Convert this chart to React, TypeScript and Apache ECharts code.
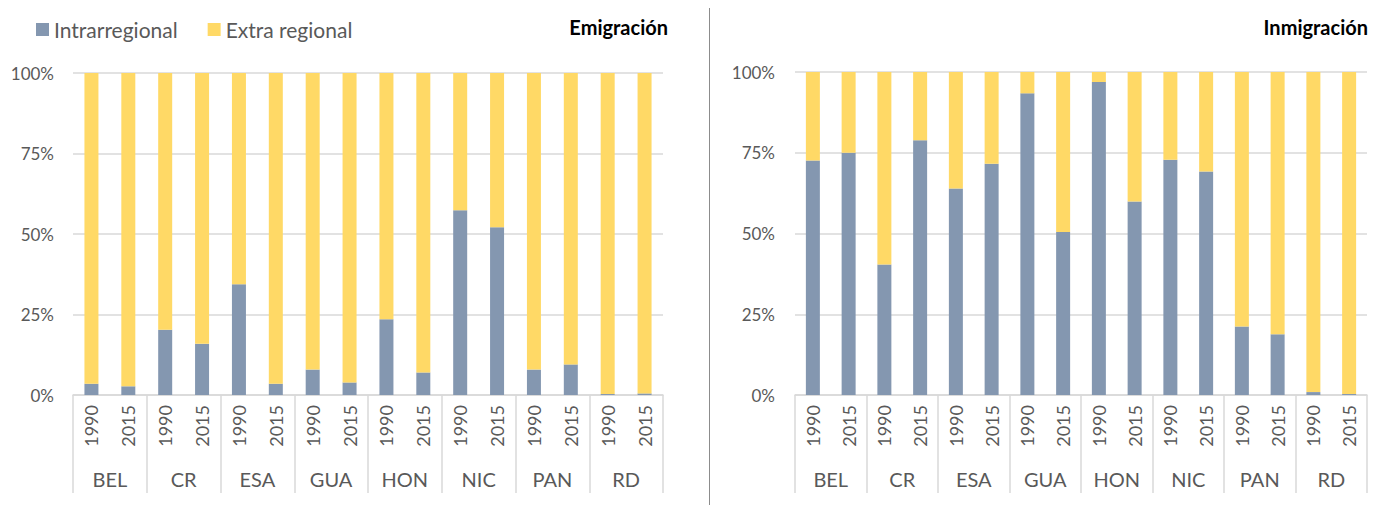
import React, { useEffect, useRef } from "react";
import * as echarts from "echarts";

const countries = ["BEL", "CR", "ESA", "GUA", "HON", "NIC", "PAN", "RD"];
const years = ["1990", "2015"];
const yTicks = [0, 25, 50, 75, 100];

// Intrarregional share (%) per country/year, order: BEL1990, BEL2015, CR1990, ...
const intraEmigracion = [3.5, 2.7, 20.3, 15.9, 34.4, 3.5, 7.9, 3.9, 23.5, 7.0, 57.4, 52.1, 7.9, 9.5, 0.3, 0.5];
const intraInmigracion = [72.6, 75.0, 40.4, 78.9, 63.9, 71.6, 93.4, 50.5, 96.9, 59.9, 72.8, 69.2, 21.2, 18.8, 0.9, 0.3];

const titles = ["Emigración", "Inmigración"];
const legendNames = ["Intrarregional", "Extra regional"];

const COLOR_INTRA = "#8497B0";
const COLOR_EXTRA = "#FFD966";
const GRID_COLOR = "#D9D9D9";
const TEXT_COLOR = "#595959";
const FONT = "Lato, 'Noto Sans', sans-serif";

const yearCats = countries.flatMap((c) => years.map((y) => `${c}-${y}`));

export default function App() {
  const ref = useRef<HTMLDivElement>(null);

  useEffect(() => {
    if (!ref.current) return;
    const chart = echarts.init(ref.current, null, { renderer: "svg" });

    const grids = [
      { left: 73, top: 73, width: 590, bottom: 111 },
      { left: 795, top: 72, width: 572, bottom: 111 },
    ];

    const xAxes: any[] = [];
    const yAxes: any[] = [];
    const series: any[] = [];
    [0, 1].forEach((g) => {
      xAxes.push({
        type: "category",
        gridIndex: g,
        data: yearCats,
        position: "bottom",
        axisLine: { show: true, lineStyle: { color: GRID_COLOR, width: 1.5 } },
        axisTick: { show: false },
        axisLabel: {
          rotate: 90,
          interval: 0,
          margin: 10,
          color: TEXT_COLOR,
          fontSize: 18,
          fontFamily: FONT,
          formatter: (v: string) => v.split("-")[1],
        },
      });
      xAxes.push({
        type: "category",
        gridIndex: g,
        data: countries,
        position: "bottom",
        axisLine: { show: false },
        axisTick: { show: true, length: 98, lineStyle: { color: GRID_COLOR, width: 1.5 } },
        axisLabel: {
          interval: 0,
          margin: 74,
          color: TEXT_COLOR,
          fontSize: 20,
          fontFamily: FONT,
        },
      });
      yAxes.push({
        type: "value",
        gridIndex: g,
        min: 0,
        max: 100,
        interval: 25,
        axisLine: { show: false },
        axisTick: { show: false },
        splitLine: { lineStyle: { color: GRID_COLOR, width: 1.5 } },
        axisLabel: {
          formatter: (v: number) => (yTicks.includes(v) ? `${v}%` : ""),
          margin: g === 0 ? 19 : 20,
          color: TEXT_COLOR,
          fontSize: 17,
          fontFamily: FONT,
        },
      });
      const intra = g === 0 ? intraEmigracion : intraInmigracion;
      const extra = intra.map((v) => +(100 - v).toFixed(1));
      series.push({
        name: legendNames[0],
        type: "bar",
        stack: `s${g}`,
        xAxisIndex: g * 2,
        yAxisIndex: g,
        barWidth: 14,
        data: intra,
        itemStyle: { color: COLOR_INTRA },
      });
      series.push({
        name: legendNames[1],
        type: "bar",
        stack: `s${g}`,
        xAxisIndex: g * 2,
        yAxisIndex: g,
        barWidth: 14,
        data: extra,
        itemStyle: { color: COLOR_EXTRA },
      });
    });

    chart.setOption({
      animation: false,
      backgroundColor: "#ffffff",
      grid: grids,
      xAxis: xAxes,
      yAxis: yAxes,
      series,
      legend: {
        left: 31,
        top: 14,
        data: legendNames,
        icon: "rect",
        itemWidth: 13,
        itemHeight: 13,
        itemGap: 30,
        textStyle: { color: TEXT_COLOR, fontSize: 21, fontFamily: FONT },
      },
      graphic: [
        {
          type: "text",
          x: 668,
          y: 27,
          style: {
            text: titles[0],
            textAlign: "right",
            textVerticalAlign: "middle",
            fontSize: 20,
            fontWeight: "bold",
            fontFamily: FONT,
            fill: "#000000",
          },
        },
        {
          type: "text",
          x: 1368,
          y: 27,
          style: {
            text: titles[1],
            textAlign: "right",
            textVerticalAlign: "middle",
            fontSize: 20,
            fontWeight: "bold",
            fontFamily: FONT,
            fill: "#000000",
          },
        },
        {
          type: "line",
          shape: { x1: 709.5, y1: 8, x2: 709.5, y2: 505 },
          style: { stroke: "#8C8C8C", lineWidth: 1 },
        },
      ],
    });

    return () => chart.dispose();
  }, []);

  return (
    <div
      ref={ref}
      style={{ position: "fixed", left: 0, top: 0, width: 1379, height: 506 }}
    />
  );
}
